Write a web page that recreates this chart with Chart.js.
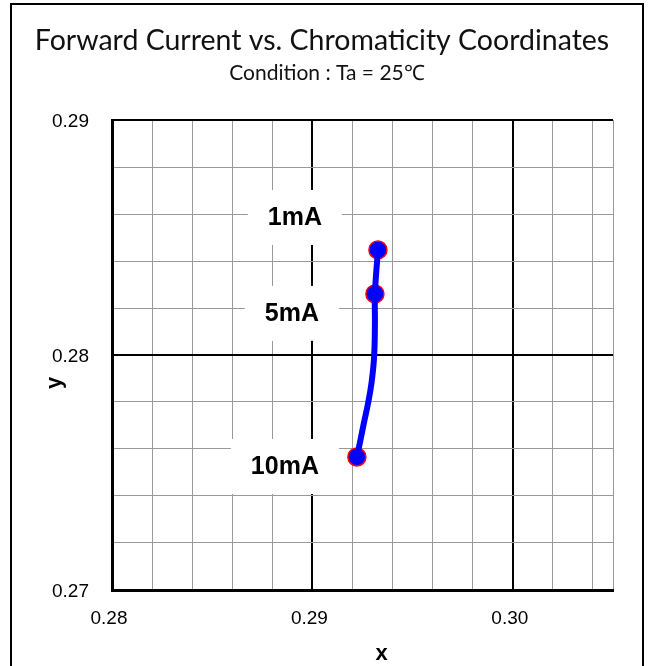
<!DOCTYPE html>
<html lang="en">
<head>
  <meta charset="UTF-8" />
  <title>Forward Current vs. Chromaticity Coordinates</title>
  <script src="https://cdn.jsdelivr.net/npm/chart.js"></script>
  <style>
    html, body { margin: 0; padding: 0; background: #fff; }
  </style>
</head>
<body>
  <canvas id="chromaChart" width="648" height="666"></canvas>

  <script>
    // measured points (marked)
    const currents = ["1mA", "5mA", "10mA"];
    const chromaX = [0.29327, 0.29312, 0.29222];
    const chromaY = [0.28447, 0.28260, 0.27566];
    // smoothed trace as drawn in the reference
    const traceX = [0.29327, 0.29312, 0.29312, 0.29308, 0.29295, 0.29278, 0.29257, 0.29237, 0.29222];
    const traceY = [0.28447, 0.28260, 0.28136, 0.27993, 0.27881, 0.27796, 0.27711, 0.27626, 0.27566];
    const xTicks = [0.28, 0.29, 0.30];
    const yTicks = [0.27, 0.28, 0.29];
    const xRange = [0.28, 0.305];
    const yRange = [0.27, 0.29];
    const gridStep = 0.002;

    const titleText = "Forward Current vs. Chromaticity Coordinates";
    const subtitleText = "Condition : Ta = 25\u2103";

    const isMajor = (v, list) => list.some(t => Math.abs(t - v) < 1e-6);

    function gridValues(range) {
      const vals = [];
      for (let i = 0; range[0] + i * gridStep < range[1] - 1e-9; i++) {
        vals.push(+(range[0] + i * gridStep).toFixed(4));
      }
      vals.push(range[1]);
      return vals;
    }

    const tickFont = { family: '"Liberation Sans", Arial, sans-serif', size: 19 };

    // white-boxed current labels, placed relative to each marked point
    const labelOffsets = [[-83, -33], [-83, 19], [-72, 9]];
    const currentLabels = {
      id: "currentLabels",
      beforeDatasetsDraw(chart) {
        const ctx = chart.ctx;
        const meta = chart.getDatasetMeta(1);
        ctx.save();
        ctx.font = 'bold 25px "Liberation Sans", Arial, sans-serif';
        ctx.textAlign = "center";
        ctx.textBaseline = "middle";
        meta.data.forEach((pt, i) => {
          const cx = pt.x + labelOffsets[i][0];
          const cy = pt.y + labelOffsets[i][1];
          const w = ctx.measureText(currents[i]).width + 40;
          ctx.fillStyle = "#fff";
          ctx.fillRect(cx - w / 2, cy - 27, w, 55);
          ctx.fillStyle = "#000";
          ctx.fillText(currents[i], cx, cy + 1);
        });
        ctx.restore();
      }
    };

    const headerAndFrame = {
      id: "headerAndFrame",
      afterDraw(chart) {
        const ctx = chart.ctx;
        const area = chart.chartArea;
        ctx.save();
        ctx.fillStyle = "#111";
        ctx.textAlign = "center";
        ctx.textBaseline = "alphabetic";
        ctx.font = '28.5px Lato, "Open Sans", sans-serif';
        ctx.fillText(titleText, 322, 50);
        ctx.font = '21px Lato, "Open Sans", sans-serif';
        ctx.fillText(subtitleText, 327, 80);

        // axis titles
        ctx.fillStyle = "#000";
        ctx.font = 'bold 22px "Liberation Sans", Arial, sans-serif';
        ctx.textBaseline = "middle";
        ctx.fillText("x", (area.left + area.right) / 2 + 19, area.bottom + 64);
        ctx.translate(area.left - 57, (area.top + area.bottom) / 2 + 28);
        ctx.rotate(-Math.PI / 2);
        ctx.fillText("y", 0, 0);
        ctx.setTransform(1, 0, 0, 1, 0, 0);

        ctx.strokeStyle = "#000";
        ctx.lineWidth = 2;
        ctx.strokeRect(11, 4, 632, 690);
        ctx.restore();
      }
    };

    new Chart(document.getElementById("chromaChart"), {
      type: "scatter",
      data: {
        datasets: [{
          label: "trace",
          data: traceX.map((x, i) => ({ x, y: traceY[i] })),
          showLine: true,
          tension: 0.4,
          borderColor: "#0000ff",
          borderWidth: 6,
          pointRadius: 0,
          pointHoverRadius: 0
        }, {
          label: "Chromaticity",
          data: chromaX.map((x, i) => ({ x, y: chromaY[i] })),
          showLine: false,
          pointRadius: 9,
          pointHoverRadius: 9,
          pointBackgroundColor: "#0000ff",
          pointBorderColor: "#ff0000",
          pointBorderWidth: 1.5
        }]
      },
      options: {
        responsive: false,
        animation: false,
        layout: { padding: { top: 120, right: 35, bottom: 0, left: 0 } },
        plugins: {
          legend: { display: false },
          tooltip: { enabled: false }
        },
        scales: {
          x: {
            type: "linear",
            min: xRange[0],
            max: xRange[1],
            afterBuildTicks: s => { s.ticks = gridValues(xRange).map(v => ({ value: v })); },
            afterFit: s => { s.height = 76; },
            border: { color: "#000", width: 3 },
            grid: {
              drawTicks: false,
              color: c => (c.tick && isMajor(c.tick.value, xTicks) ? "#000" : "#999"),
              lineWidth: c => (c.tick && isMajor(c.tick.value, xTicks) ? 2 : 1)
            },
            ticks: {
              autoSkip: false,
              maxRotation: 0,
              padding: 17,
              labelOffset: -3,
              color: "#000",
              font: tickFont,
              callback: v => (isMajor(v, xTicks) ? v.toFixed(2) : "")
            }
          },
          y: {
            type: "linear",
            min: yRange[0],
            max: yRange[1],
            afterBuildTicks: s => { s.ticks = gridValues(yRange).map(v => ({ value: v })); },
            afterFit: s => { s.width = 112; },
            border: { color: "#000", width: 3 },
            grid: {
              drawTicks: false,
              color: c => (c.tick && isMajor(c.tick.value, yTicks) ? "#000" : "#999"),
              lineWidth: c => (c.tick && isMajor(c.tick.value, yTicks) ? 2 : 1)
            },
            ticks: {
              autoSkip: false,
              padding: 23,
              labelOffset: 2,
              color: "#000",
              font: tickFont,
              callback: v => (isMajor(v, yTicks) ? v.toFixed(2) : "")
            }
          }
        }
      },
      plugins: [currentLabels, headerAndFrame]
    });
  </script>
</body>
</html>
